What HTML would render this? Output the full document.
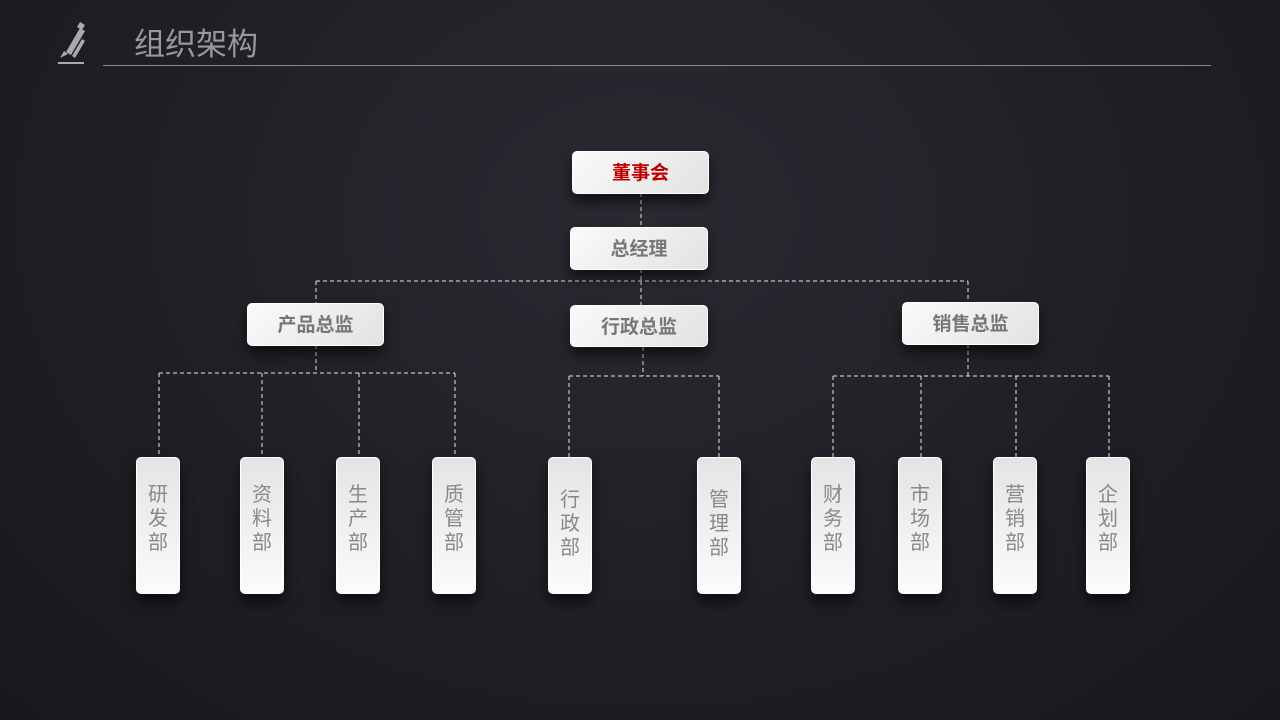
<!DOCTYPE html>
<html><head><meta charset="utf-8"><style>
body{margin:0;width:1280px;height:720px;overflow:hidden;background:radial-gradient(ellipse at 50% 30%,#2a2a32 0%,#1e1e24 60%,#18181c 100%);font-family:"Liberation Sans","Noto Sans CJK SC",sans-serif;position:relative}
.b{position:absolute;background:linear-gradient(135deg,#fafafa,#e2e2e2);border:1px solid #fff;border-radius:5px;box-shadow:0 8px 14px rgba(0,0,0,.6);color:#777;font-weight:bold;font-size:19px;text-align:center;box-sizing:border-box}
.v{position:absolute;background:linear-gradient(180deg,#e4e4e4,#fbfbfb);border:1px solid #fff;border-radius:5px;box-shadow:0 8px 14px rgba(0,0,0,.6);color:#888;font-size:20px;line-height:24px;text-align:center;box-sizing:border-box;width:44px;height:137px;top:457px;padding-top:25px}
svg{position:absolute;left:0;top:0}
</style></head><body>
<svg width="1280" height="720">
<g stroke="#e8e8e8" stroke-width="1" stroke-dasharray="4,3" fill="none">
<path d="M641 193V227M641 269V281M316 281H968M316 281V303M968 281V302M641 281V305"/>
<path d="M316 345V373M159 373H455M159 373V457M262 373V457M359 373V457M455 373V457"/>
<path d="M643 347V376M569 376H719M569 376V457M719 376V457"/>
<path d="M968 344V376M833 376H1109M833 376V457M921 376V457M1016 376V457M1109 376V457"/>
</g>
<line x1="103" y1="65.5" x2="1211" y2="65.5" stroke="#888" stroke-width="1"/>
<g fill="#aaa"><path d="M66 52l14-24 5 3-14 24z M72 56l10-17 3 2-10 17z"/><path d="M60 58l4-7 4 3z"/><rect x="58" y="62" width="26" height="2"/><path d="M77 27l3-5 5 3-3 5z"/></g>
</svg>
<div style="position:absolute;left:134px;top:19px;font-size:31px;color:#999">组织架构</div>
<div class="b" style="left:572px;top:151px;width:137px;height:43px;line-height:44px;color:#c00000">董事会</div>
<div class="b" style="left:570px;top:227px;width:138px;height:43px;line-height:44px">总经理</div>
<div class="b" style="left:247px;top:303px;width:137px;height:43px;line-height:44px">产品总监</div>
<div class="b" style="left:570px;top:305px;width:138px;height:42px;line-height:43px">行政总监</div>
<div class="b" style="left:902px;top:302px;width:137px;height:43px;line-height:44px">销售总监</div>
<div class="v" style="left:136px">研<br>发<br>部</div>
<div class="v" style="left:240px">资<br>料<br>部</div>
<div class="v" style="left:336px">生<br>产<br>部</div>
<div class="v" style="left:432px">质<br>管<br>部</div>
<div class="v" style="left:548px;padding-top:30px">行<br>政<br>部</div>
<div class="v" style="left:697px;padding-top:30px">管<br>理<br>部</div>
<div class="v" style="left:811px">财<br>务<br>部</div>
<div class="v" style="left:898px">市<br>场<br>部</div>
<div class="v" style="left:993px">营<br>销<br>部</div>
<div class="v" style="left:1086px">企<br>划<br>部</div>
</body></html>
